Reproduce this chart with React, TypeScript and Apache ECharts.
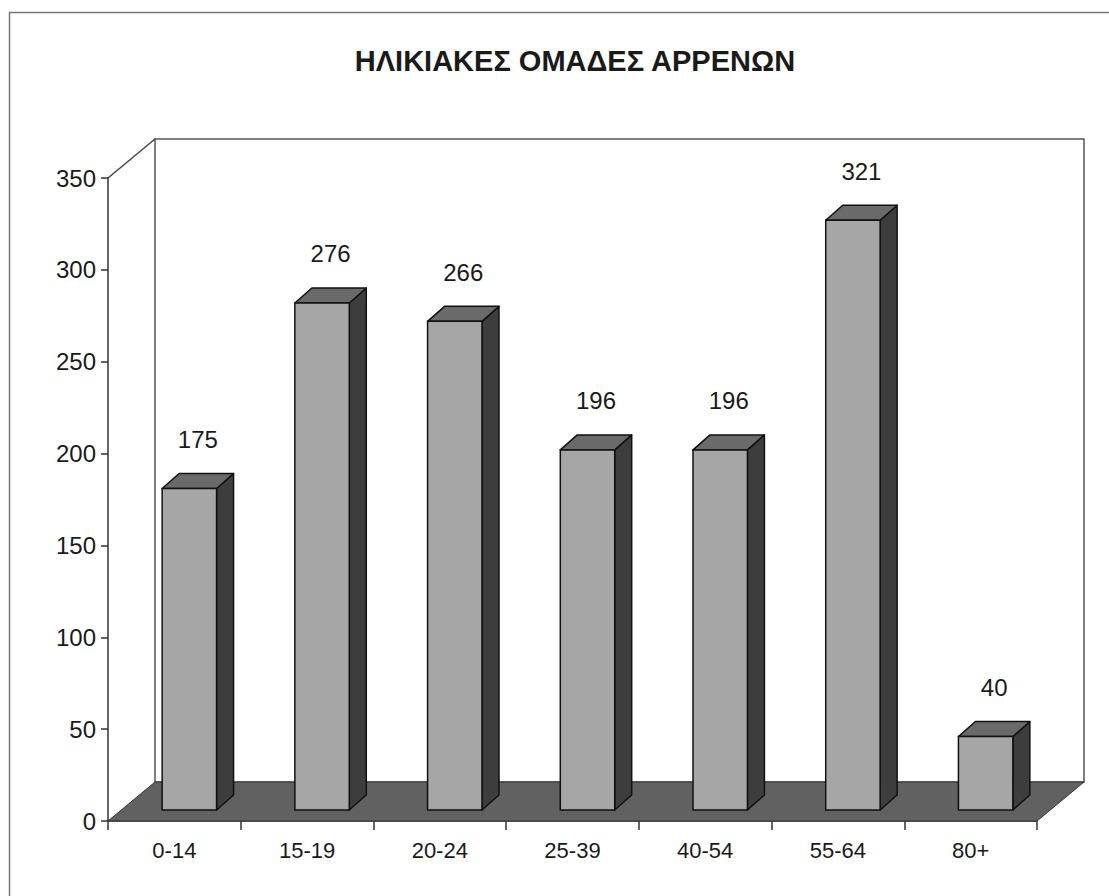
import React, { useEffect, useRef } from "react";
import * as echarts from "echarts";

const TITLE = "ΗΛΙΚΙΑΚΕΣ ΟΜΑΔΕΣ ΑΡΡΕΝΩΝ";
const categories = ["0-14", "15-19", "20-24", "25-39", "40-54", "55-64", "80+"];
const values = [175, 276, 266, 196, 196, 321, 40];
const yMin = 0;
const yMax = 350;
const yStep = 50;

const FONT = "'Liberation Sans', Arial, sans-serif";

export default function App() {
  const ref = useRef<HTMLDivElement>(null);

  useEffect(() => {
    if (!ref.current) return;
    const chart = echarts.init(ref.current, null, { renderer: "svg" });

    // depth of the floor / back wall and of bars (pixels)
    const WD = { x: 47, y: -39 };
    const BO = { x: 15, y: -11 }; // bar front offset from front plane
    const BD = { x: 17, y: -15 }; // bar depth

    const option: any = {
      animation: false,
      backgroundColor: "#ffffff",
      title: {
        text: TITLE,
        left: 570,
        top: 41,
        textAlign: "center",
        textStyle: { fontFamily: FONT, fontSize: 29, fontWeight: "bold", color: "#1a1a1a" },
      },
      graphic: [
        {
          type: "rect",
          shape: { x: 9.5, y: 12.5, width: 1300, height: 1100 },
          style: { fill: "none", stroke: "#777", lineWidth: 1.5 },
          silent: true,
          z: -10,
        },
      ],
      grid: { left: 108, top: 178, width: 929, height: 643, containLabel: false },
      xAxis: {
        type: "category",
        data: categories,
        boundaryGap: true,
        axisLine: { show: true, lineStyle: { color: "#333", width: 1.5 } },
        axisTick: { show: true, length: 9, lineStyle: { color: "#333", width: 1.5 } },
        axisLabel: { fontFamily: FONT, fontSize: 22, color: "#1a1a1a", margin: 18 },
        splitLine: { show: false },
      },
      yAxis: {
        type: "value",
        min: yMin,
        max: yMax,
        interval: yStep,
        axisLine: { show: true, lineStyle: { color: "#333", width: 1.5 } },
        axisTick: { show: true, length: 7, lineStyle: { color: "#333", width: 1.5 } },
        axisLabel: { fontFamily: FONT, fontSize: 24, color: "#1a1a1a", margin: 12 },
        splitLine: { show: false },
      },
      series: [
        {
          type: "custom",
          name: "frame",
          clip: false,
          silent: true,
          z: 1,
          data: [[0, 0]],
          renderItem: (params: any) => {
            const cs = params.coordSys;
            const x0 = cs.x, x1 = cs.x + cs.width, yt = cs.y, yb = cs.y + cs.height;
            return {
              type: "group",
              children: [
                {
                  type: "rect",
                  shape: { x: x0 + WD.x, y: yt + WD.y, width: cs.width, height: cs.height },
                  style: { fill: "#ffffff", stroke: "#555", lineWidth: 1.5 },
                },
                {
                  type: "line",
                  shape: { x1: x0, y1: yt, x2: x0 + WD.x, y2: yt + WD.y },
                  style: { stroke: "#444", lineWidth: 1.5 },
                },
                {
                  type: "polygon",
                  shape: {
                    points: [
                      [x0, yb],
                      [x1, yb],
                      [x1 + WD.x, yb + WD.y],
                      [x0 + WD.x, yb + WD.y],
                    ],
                  },
                  style: { fill: "#616161", stroke: "#333", lineWidth: 1 },
                },
              ],
            };
          },
        },
        {
          type: "custom",
          name: "bars",
          clip: false,
          z: 3,
          data: values.map((v, i) => [i, v]),
          renderItem: (params: any, api: any) => {
            const i = api.value(0);
            const v = api.value(1);
            const top = api.coord([i, v]);
            const base = api.coord([i, 0]);
            const band = api.size([1, 0])[0];
            const bw = band * 0.41;
            const fx = top[0] + BO.x - bw / 2;
            const ft = top[1] + BO.y;
            const fb = base[1] + BO.y;
            const stroke = "#111";
            return {
              type: "group",
              children: [
                {
                  type: "polygon",
                  shape: {
                    points: [
                      [fx + bw, ft],
                      [fx + bw + BD.x, ft + BD.y],
                      [fx + bw + BD.x, fb + BD.y],
                      [fx + bw, fb],
                    ],
                  },
                  style: { fill: "#3d3d3d", stroke, lineWidth: 1.5, lineJoin: "round" },
                },
                {
                  type: "polygon",
                  shape: {
                    points: [
                      [fx, ft],
                      [fx + BD.x, ft + BD.y],
                      [fx + bw + BD.x, ft + BD.y],
                      [fx + bw, ft],
                    ],
                  },
                  style: { fill: "#6a6a6a", stroke, lineWidth: 1.5, lineJoin: "round" },
                },
                {
                  type: "rect",
                  shape: { x: fx, y: ft, width: bw, height: fb - ft },
                  style: { fill: "#a6a6a6", stroke, lineWidth: 1.5 },
                },
                {
                  type: "text",
                  style: {
                    text: String(v),
                    x: fx + bw / 2 + BD.x / 2,
                    y: ft + BD.y - 34,
                    align: "center",
                    verticalAlign: "middle",
                    fontFamily: FONT,
                    fontSize: 24,
                    fill: "#1a1a1a",
                  },
                },
              ],
            };
          },
        },
      ],
    };

    chart.setOption(option);
    return () => chart.dispose();
  }, []);

  return (
    <div
      ref={ref}
      style={{ position: "fixed", left: 0, top: 0, width: 1109, height: 896, background: "#fff" }}
    />
  );
}
